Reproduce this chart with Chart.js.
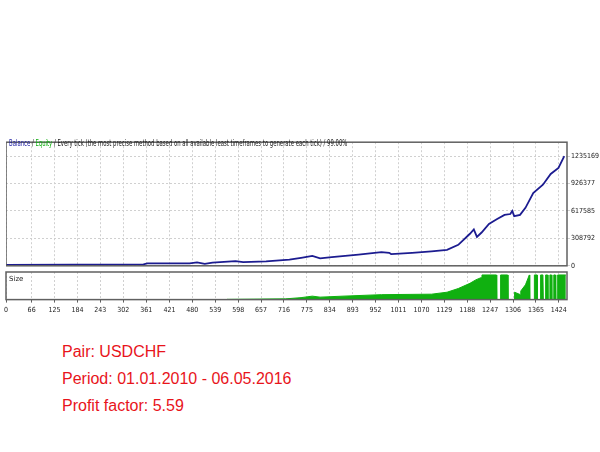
<!DOCTYPE html>
<html><head><meta charset="utf-8">
<script src="https://cdn.jsdelivr.net/npm/chart.js@4"></script>
<style>
body{margin:0;width:600px;height:452px;background:#fff;position:relative;overflow:hidden;font-family:"Liberation Sans",Arial,sans-serif}
.box{position:absolute}
#hdr{position:absolute;left:9px;top:139px;font:8px "DejaVu Sans Condensed","DejaVu Sans",sans-serif;white-space:nowrap;transform-origin:0 0;transform:scaleX(0.74);color:#222}
#sz{position:absolute;left:9px;top:275px;font:7px "DejaVu Sans",sans-serif;color:#222}
.info{position:absolute;left:62px;color:#e8141b;font-size:16px}
</style></head><body>
<div class="box" style="left:6px;top:137px;width:594px;height:134px"><canvas id="c1"></canvas></div>
<div class="box" id="b2" style="left:1px;top:271px;width:599px;height:46px"><canvas id="c2"></canvas></div>
<div id="hdr"><span style="color:#1a1aa0">Balance</span> / <span style="color:#10b010">Equity</span> / Every tick (the most precise method based on all available least timeframes to generate each tick) / 99.00%</div>
<div id="sz">Size</div>
<div class="info" style="top:343px">Pair: USDCHF</div>
<div class="info" style="top:370px">Period: 01.01.2010 - 06.05.2016</div>
<div class="info" style="top:397px">Profit factor: 5.59</div>
<script>
var xTicks = [0,66,125,184,243,302,361,421,480,539,598,657,716,775,834,893,952,1011,1070,1129,1188,1247,1306,1365,1424];
var yTicks = [0,308792,617585,926377,1235169];
var balIdx = [0,354,364,473,492,512,532,591,611,670,730,760,789,809,839,908,967,987,992,1046,1096,1136,1165,1195,1205,1213,1225,1244,1264,1284,1299,1304,1309,1324,1338,1358,1383,1403,1423,1438];
var balVal = [10000,17000,28000,28000,38000,21000,35000,52000,42000,49000,69000,90000,111000,83000,97000,125000,153000,146000,132000,146000,163000,180000,236000,361000,409000,326000,375000,472000,524000,573000,583000,618000,559000,573000,653000,819000,913000,1034000,1103000,1235169];
var sizeIdx = [569,570,720,760,789,809,868,967,1096,1136,1165,1195,1210,1225,1226,1263,1264,1273,1274,1292,1293,1309,1310,1325,1326,1338,1348,1349,1360,1361,1368,1369,1376,1377,1383,1384,1389,1390,1395,1396,1400,1401,1405,1406,1410,1411,1415,1416,1420,1421,1442];
var sizeVal = [0,1,3,8,14,10,14,20,22,30,45,66,80,90,100,100,0,0,100,100,0,0,30,20,35,60,100,0,0,100,100,0,0,100,100,0,0,100,100,0,0,100,100,0,0,100,100,0,0,100,100];

var tickFont = {family:'DejaVu Sans Condensed', size:7};
function setX(axis){ axis.ticks = xTicks.map(function(v){return {value:v};}); }
function plain(v){ return String(v); }
var frame = {id:'frame', afterDraw:function(ch){
  var a = ch.chartArea, c = ch.ctx;
  c.save(); c.strokeStyle='#606060'; c.lineWidth=1.5;
  c.strokeRect(a.left, a.top, a.right-a.left, a.bottom-a.top); c.restore();
}};

new Chart(document.getElementById('c1'), {
  type:'line',
  data:{datasets:[{data:balIdx.map(function(x,i){return {x:x,y:balVal[i]};}),
    borderColor:'#1c1c90', borderWidth:1.8, pointRadius:0, tension:0}]},
  options:{responsive:true, maintainAspectRatio:false, animation:false,
    layout:{padding:{top:1,left:0,right:0,bottom:0}},
    plugins:{legend:{display:false}, tooltip:{enabled:false}},
    scales:{
      x:{type:'linear', min:0, max:1445, afterBuildTicks:setX, afterFit:function(s){s.height=0;},
         ticks:{display:false}, grid:{color:'#d0d0d0', drawTicks:false}, border:{display:false, dash:[2,2]}},
      y:{position:'right', min:0, max:1392000, afterBuildTicks:function(a){a.ticks=yTicks.map(function(v){return {value:v};});},
         afterFit:function(s){s.width=33;},
         ticks:{font:tickFont, color:'#222', padding:1, callback:plain}, grid:{color:'#d0d0d0', drawTicks:true, tickLength:3}, border:{display:false, dash:[2,2]}}
    }},
  plugins:[frame]
});

new Chart(document.getElementById('c2'), {
  type:'line',
  data:{datasets:[{data:sizeIdx.map(function(x,i){return {x:x,y:sizeVal[i]};}),
    borderColor:'#10b010', backgroundColor:'#10b010', borderWidth:1, pointRadius:0, fill:'origin', tension:0}]},
  options:{responsive:true, maintainAspectRatio:false, animation:false,
    layout:{padding:{top:1,left:0,right:0,bottom:0}},
    plugins:{legend:{display:false}, tooltip:{enabled:false}},
    scales:{
      x:{type:'linear', min:0, max:1445, afterBuildTicks:setX,
         ticks:{font:tickFont, color:'#222', maxRotation:0, autoSkip:false, padding:3, callback:plain},
         grid:{color:'#d0d0d0', drawTicks:true, tickLength:3, tickColor:'#606060'}, border:{display:false, dash:[2,2]}},
      y:{position:'right', min:0, max:112, afterFit:function(s){s.width=33;},
         ticks:{display:false}, grid:{display:false}, border:{display:false}}
    }},
  plugins:[frame]
});
</script>
</body></html>
